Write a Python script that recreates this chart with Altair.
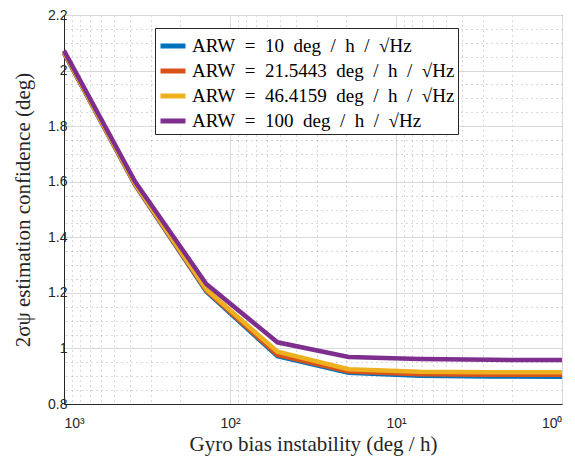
import altair as alt
import pandas as pd

# data
bias = [1000, 372.76, 138.95, 51.795, 19.307, 7.1969, 2.6827, 1]
E = "\u2002"  # en space, to mimic LaTeX math spacing
series_names = [
    f"ARW{E}={E}10{E}deg{E}/{E}h{E}/{E}√Hz",
    f"ARW{E}={E}21.5443{E}deg{E}/{E}h{E}/{E}√Hz",
    f"ARW{E}={E}46.4159{E}deg{E}/{E}h{E}/{E}√Hz",
    f"ARW{E}={E}100{E}deg{E}/{E}h{E}/{E}√Hz",
]
arw10 = [2.063, 1.588, 1.205, 0.972, 0.912, 0.902, 0.899, 0.898]
arw21 = [2.064, 1.590, 1.208, 0.977, 0.917, 0.907, 0.905, 0.905]
arw46 = [2.066, 1.592, 1.213, 0.988, 0.925, 0.916, 0.914, 0.914]
arw100 = [2.072, 1.600, 1.232, 1.022, 0.969, 0.962, 0.959, 0.958]
colors = ["#0072BD", "#D95319", "#EDB120", "#7E2F8E"]

x_major = [1, 10, 100, 1000]
x_minor = [m * d for d in [1, 10, 100] for m in range(2, 10)]
y_major = [0.8, 1.0, 1.2, 1.4, 1.6, 1.8, 2.0, 2.2]
y_minor = [round(0.8 + 0.05 * i, 2) for i in range(29)]

rows = []
for name, vals in zip(series_names, [arw10, arw21, arw46, arw100]):
    for i, (b, v) in enumerate(zip(bias, vals)):
        rows.append({"bias": b, "conf": v, "series": name, "idx": i})
df = pd.DataFrame(rows)

SERIF = "Liberation Serif"

xscale = alt.Scale(type="log", domain=[1, 1000], reverse=True, nice=False)
yscale = alt.Scale(domain=[0.8, 2.2], nice=False, zero=False)

label_expr = ("datum.value == 1000 ? '10³' : datum.value == 100 ? '10²' : "
              "datum.value == 10 ? '10¹' : '10⁰'")

minor = alt.Chart(df).mark_line(opacity=0).encode(
    x=alt.X("bias:Q", scale=xscale,
            axis=alt.Axis(values=x_minor, grid=True, gridDash=[1, 4], gridColor="#a0a0a0",
                          gridOpacity=0.8, labels=False, ticks=False, domain=False,
                          title=None, orient="bottom")),
    y=alt.Y("conf:Q", scale=yscale,
            axis=alt.Axis(values=y_minor, grid=True, gridDash=[1, 4], gridColor="#a0a0a0",
                          gridOpacity=0.8, labels=False, ticks=False, domain=False,
                          title=None, orient="left")),
    detail="series:N",
)

lines = alt.Chart(df).mark_line(strokeWidth=4.5).encode(
    x=alt.X("bias:Q", scale=xscale,
            axis=alt.Axis(values=x_major, grid=True, gridColor="#d9d9d9", labelExpr=label_expr,
                          title="Gyro bias instability (deg / h)", orient="bottom",
                          ticks=False, labelPadding=12, titlePadding=3,
                          domainColor="#262626")),
    y=alt.Y("conf:Q", scale=yscale,
            axis=alt.Axis(values=y_major, format=".1~f", grid=True, gridColor="#d9d9d9",
                          title="2σψ estimation confidence (deg)", orient="left",
                          ticks=False, labelPadding=-3, titlePadding=14,
                          domainColor="#262626")),
    color=alt.Color("series:N", sort=series_names,
                    scale=alt.Scale(domain=series_names, range=colors),
                    legend=alt.Legend(title=None, orient="none", legendX=91, legendY=13,
                                      symbolType="stroke", symbolStrokeWidth=5,
                                      symbolSize=625, labelFont=SERIF,
                                      labelFontSize=19, labelLimit=400, labelColor="#000",
                                      strokeColor="#262626", fillColor="white",
                                      padding=3, rowPadding=0, symbolOffset=0,
                                      labelOffset=4)),
    order="idx:Q",
)

chart = alt.layer(minor, lines).resolve_axis(x="independent", y="independent").properties(
    width=498, height=389,
    padding={"left": 56, "top": 7, "right": 5, "bottom": 54},
    autosize=alt.AutoSizeParams(type="none"),
).configure_view(stroke="#404040", strokeWidth=1).configure_axis(
    labelFont="Liberation Sans", labelFontSize=14, labelColor="#262626",
    titleFont=SERIF, titleFontSize=21, titleFontWeight="normal", titleColor="#262626",
    domainWidth=1,
)

chart.save("out.html", embed_options={"renderer": "svg", "actions": False})
